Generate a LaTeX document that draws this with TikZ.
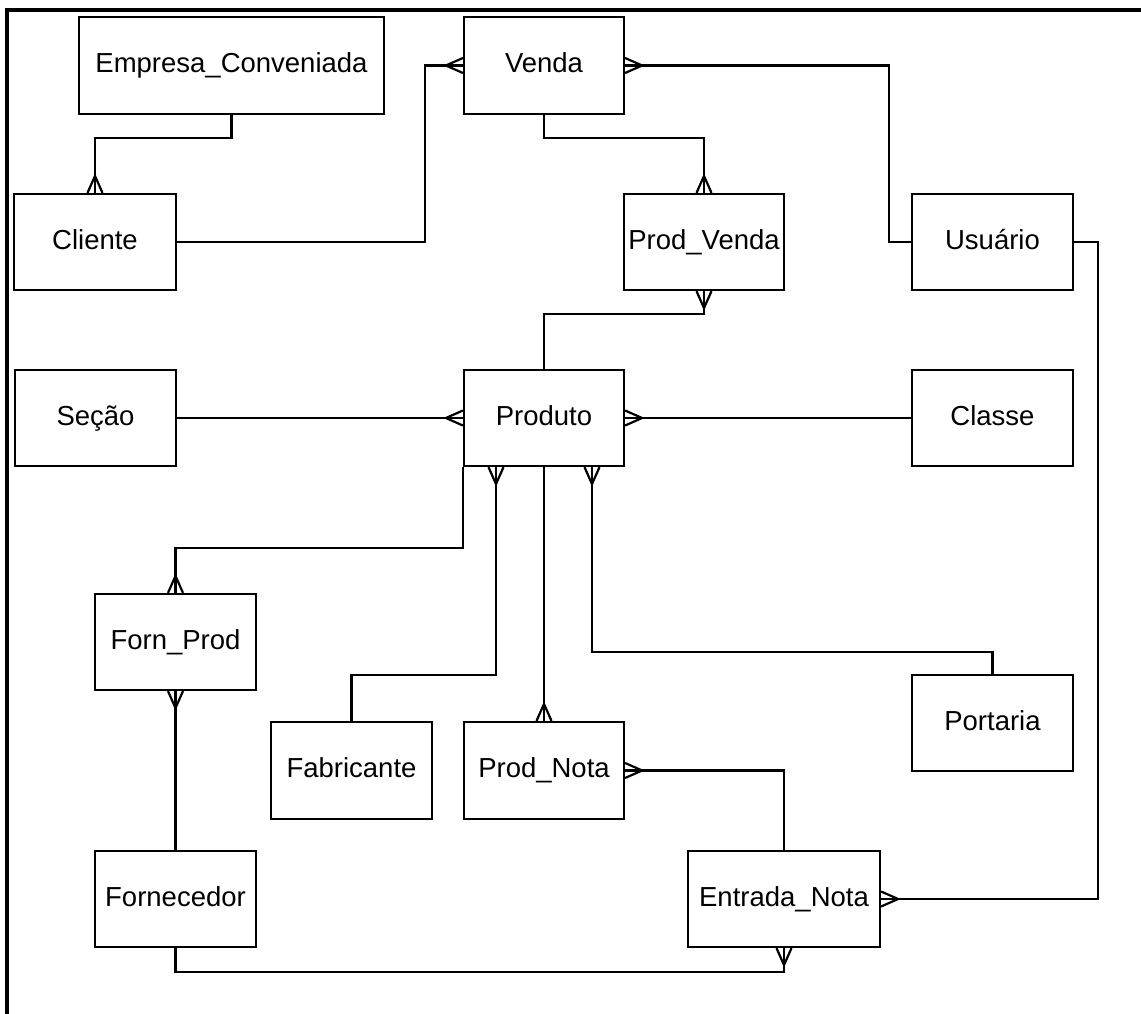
\documentclass[tikz,border=0pt]{standalone}
\usepackage{fontspec}
\setmainfont{Liberation Sans}
\usetikzlibrary{calc}
\tikzset{
  ent/.style={draw, line width=2.2pt, rectangle, inner sep=0pt, minimum height=96pt, minimum width=161pt, text height=20pt, text depth=5.5pt, font=\fontsize{27.5}{33}\selectfont},
  conn/.style={line width=2.2pt, line join=miter},
}
\newcommand{\cfN}[1]{\draw[conn] (#1) ++(-7.5,0) -- ++(7.5,-17) -- ++(7.5,17);}
\newcommand{\cfS}[1]{\draw[conn] (#1) ++(-7.5,0) -- ++(7.5,17) -- ++(7.5,-17);}
\newcommand{\cfW}[1]{\draw[conn] (#1) ++(0,-7.5) -- ++(-17,7.5) -- ++(17,7.5);}
\newcommand{\cfE}[1]{\draw[conn] (#1) ++(0,-7.5) -- ++(17,7.5) -- ++(-17,7.5);}
\begin{document}
\begin{tikzpicture}[x=1pt,y=-1pt]
\useasboundingbox (0,0) rectangle (1141,1014);
\fill[white] (0,0) rectangle (1141,1014);
\draw[line width=3.4pt] (7,1014) -- (7,10) -- (1141,10);

\node[ent, minimum width=305pt, minimum height=97pt] (emp) at (231.5,65.5) {Empresa\_Conveniada};
\node[ent, minimum width=160pt, minimum height=97pt] (ven) at (544,65.5) {Venda};
\node[ent, minimum width=162pt] (cli) at (95,242) {Cliente};
\node[ent, minimum width=160pt] (pv) at (704,242) {Prod\_Venda};
\node[ent] (usu) at (992.5,242) {Usuário};
\node[ent] (sec) at (95.5,418) {Seção};
\node[ent, minimum width=160pt] (pro) at (544,418) {Produto};
\node[ent] (cla) at (992.5,418) {Classe};
\node[ent] (fp) at (175.5,642) {Forn\_Prod};
\node[ent, minimum height=97pt] (fab) at (351.5,770.5) {Fabricante};
\node[ent, minimum width=160pt, minimum height=97pt] (pn) at (544,770.5) {Prod\_Nota};
\node[ent] (por) at (992.5,723) {Portaria};
\node[ent] (forn) at (175.5,899) {Fornecedor};
\node[ent, minimum width=192pt] (en) at (784,899) {Entrada\_Nota};

\coordinate (pfab) at ($(pro.south)+(-48,0)$);
\coordinate (ppor) at ($(pro.south)+(48,0)$);

% connectors
\draw[conn] (emp.south) -- ++(0,23) -| (cli.north);
\draw[conn] (cli.east) -- ++(248,0) |- (ven.west);
\draw[conn] (ven.east) -- ++(264,0) |- (usu.west);
\draw[conn] (ven.south) -- ++(0,23) -| (pv.north);
\draw[conn] (pv.south) -- ++(0,23) -| (pro.north);
\draw[conn] (sec.east) -- (pro.west);
\draw[conn] (pro.east) -- (cla.west);
\draw[conn] (pro.south west) -- ++(0,81) -| (fp.north);
\draw[conn] (pfab) -- ++(0,208) -| (fab.north);
\draw[conn] (pro.south) -- (pn.north);
\draw[conn] (ppor) -- ++(0,185) -| (por.north);
\draw[conn] (fp.south) -- (forn.north);
\draw[conn] (pn.east) -| (en.north);
\draw[conn] (en.east) -- ++(217,0) |- (usu.east);
\draw[conn] (forn.south) -- ++(0,24) -| (en.south);

% crow's feet
\cfN{cli.north}
\cfW{ven.west}
\cfE{ven.east}
\cfN{pv.north}
\cfS{pv.south}
\cfW{pro.west}
\cfE{pro.east}
\cfS{pfab}
\cfS{ppor}
\cfN{fp.north}
\cfS{fp.south}
\cfN{pn.north}
\cfE{pn.east}
\cfE{en.east}
\cfS{en.south}
\end{tikzpicture}
\end{document}
